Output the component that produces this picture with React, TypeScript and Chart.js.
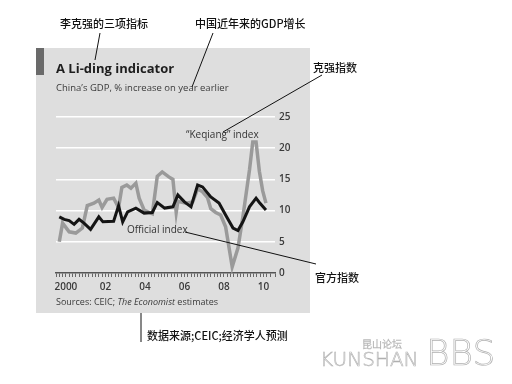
import React, { useEffect, useRef } from "react";
import { Chart, registerables } from "chart.js";

Chart.register(...registerables);

// Month index since January 2000 for each reading
const keqiangMonths = [2, 4, 8, 12, 16, 19, 23, 26, 28, 31, 35, 38, 40, 43, 45.5, 48.5, 50.5, 53.5, 58.5, 61.5, 64.5, 68.5, 71, 73, 74, 79, 83, 86, 89, 92, 94, 97, 100, 103, 107, 110.5, 113.5, 117.5, 119.5, 121.5, 123.5, 125.5, 127.5];
const keqiangValues = [5.0, 8.0, 6.6, 6.4, 7.2, 10.8, 11.2, 11.7, 10.5, 11.8, 12.0, 10.5, 13.7, 14.1, 13.6, 14.4, 12.0, 10.1, 9.5, 15.5, 16.2, 15.4, 15.0, 9.7, 11.5, 11.2, 11.4, 13.5, 13.0, 12.1, 10.3, 9.7, 9.3, 7.4, 1.0, 4.0, 9.0, 16.5, 21.0, 21.0, 16.3, 13.2, 11.2];

const officialMonths = [2, 5, 8, 11, 14, 17, 21, 26, 28.5, 35, 38, 40.5, 43.5, 48.5, 53.5, 58.5, 61.5, 66, 71, 74, 78, 82, 86, 89, 94, 99, 103, 107.5, 110.5, 113.5, 117.5, 121.5, 123.5, 127.5];
const officialValues = [9.0, 8.6, 8.4, 7.8, 8.6, 8.0, 7.0, 9.0, 8.2, 8.3, 10.8, 8.2, 9.8, 10.4, 9.6, 9.7, 11.3, 10.4, 10.6, 12.5, 11.4, 10.6, 14.1, 13.8, 12.2, 11.2, 9.3, 7.2, 6.8, 8.2, 10.6, 12.0, 11.3, 10.1];

const yearLabels = ["2000", "02", "04", "06", "08", "10"];
const yTicks = [0, 5, 10, 15, 20, 25];

const LAT = "'Open Sans', 'DejaVu Sans', sans-serif";
const CJK = "'Noto Sans CJK SC', sans-serif";

export default function App() {
  const ref = useRef<HTMLCanvasElement | null>(null);

  useEffect(() => {
    if (!ref.current) return;
    const chart = new Chart(ref.current, {
      type: "line",
      data: {
        datasets: [
          {
            label: "Official index",
            data: officialMonths.map((m, i) => ({ x: m, y: officialValues[i] })),
            borderColor: "#141414",
            borderWidth: 3,
            pointRadius: 0,
            tension: 0,
            order: 0,
          },
          {
            label: "Keqiang index",
            data: keqiangMonths.map((m, i) => ({ x: m, y: keqiangValues[i] })),
            borderColor: "#9a9a9a",
            borderWidth: 3.5,
            pointRadius: 0,
            tension: 0,
            order: 1,
          },
        ],
      },
      options: {
        animation: false,
        responsive: false,
        maintainAspectRatio: false,
        layout: { padding: { left: 56, top: 117, right: 213, bottom: 89 } },
        plugins: { legend: { display: false }, tooltip: { enabled: false } },
        scales: {
          x: {
            type: "linear",
            min: 0,
            max: 133,
            afterFit: (s: any) => {
              s.height = 22;
            },
            border: { display: true, color: "#555", width: 1.5 },
            grid: { drawOnChartArea: false, drawTicks: true, tickLength: 4, color: "#666", lineWidth: 1 },
            ticks: {
              stepSize: 2,
              autoSkip: false,
              maxRotation: 0,
              padding: 4,
              color: "#3a3a3a",
              font: { family: LAT, size: 10, weight: 600 },
              callback: (v: any) => {
                const n = Number(v);
                if ((n - 6) % 24 === 0) {
                  const idx = (n - 6) / 24;
                  return yearLabels[idx] ?? "";
                }
                return "";
              },
            },
          },
          y: {
            position: "right",
            min: 0,
            max: 25,
            afterFit: (s: any) => {
              s.width = 24;
            },
            afterBuildTicks: (s: any) => {
              s.ticks = yTicks.map((v) => ({ value: v }));
            },
            border: { display: false },
            grid: {
              drawTicks: false,
              color: (ctx: any) => (ctx.tick && ctx.tick.value === 0 ? "rgba(0,0,0,0)" : "#ffffff"),
              lineWidth: 1.5,
            },
            ticks: {
              padding: 4,
              color: "#3a3a3a",
              font: { family: LAT, size: 10, weight: 600 },
            },
          },
        },
      },
    });
    return () => chart.destroy();
  }, []);

  const abs = (o: React.CSSProperties): React.CSSProperties => ({ position: "absolute", whiteSpace: "nowrap", margin: 0, ...o });

  return (
    <div style={{ position: "fixed", left: 0, top: 0, width: 512, height: 384, background: "#fff", overflow: "hidden" }}>
      <div style={abs({ left: 36, top: 48, width: 274, height: 265, background: "#dedede" })} />
      <div style={abs({ left: 36, top: 48, width: 8, height: 27, background: "#6a6a6a" })} />
      <canvas ref={ref} width={512} height={384} style={{ position: "absolute", left: 0, top: 0, width: 512, height: 384 }} />

      <div style={abs({ left: 56, top: 61, fontFamily: LAT, fontWeight: 700, fontSize: 13, lineHeight: "14px", color: "#1e1e1e" })}>A Li-ding indicator</div>
      <div style={abs({ left: 56, top: 83, fontFamily: LAT, fontSize: 9.5, lineHeight: "10px", color: "#3a3a3a" })}>China’s GDP, % increase on year earlier</div>
      <div style={abs({ left: 186, top: 128, fontFamily: LAT, fontSize: 10, lineHeight: "12px", color: "#333" })}>“Keqiang” index</div>
      <div style={abs({ left: 127, top: 223, fontFamily: LAT, fontSize: 10, lineHeight: "12px", color: "#333" })}>Official index</div>
      <div style={abs({ left: 56, top: 296, fontFamily: LAT, fontSize: 9, lineHeight: "12px", color: "#3a3a3a" })}>
        Sources: CEIC; <i>The Economist</i> estimates
      </div>

      <div style={abs({ left: 60, top: 16, fontFamily: CJK, fontSize: 11, fontWeight: 500, lineHeight: "14px", color: "#111" })}>李克强的三项指标</div>
      <div style={abs({ left: 195, top: 16, fontFamily: CJK, fontSize: 11, fontWeight: 500, lineHeight: "14px", color: "#111" })}>中国近年来的GDP增长</div>
      <div style={abs({ left: 313, top: 60, fontFamily: CJK, fontSize: 11, fontWeight: 500, lineHeight: "14px", color: "#111" })}>克强指数</div>
      <div style={abs({ left: 315, top: 270, fontFamily: CJK, fontSize: 11, fontWeight: 500, lineHeight: "14px", color: "#111" })}>官方指数</div>
      <div style={abs({ left: 147, top: 328, fontFamily: CJK, fontSize: 11, fontWeight: 500, lineHeight: "14px", color: "#111" })}>数据来源;CEIC;经济学人预测</div>

      <svg width={512} height={384} style={{ position: "absolute", left: 0, top: 0 }}>
        <g stroke="#111" strokeWidth={1} fill="none">
          <line x1={100} y1={33} x2={95} y2={60} />
          <line x1={213} y1={33} x2={192} y2={87} />
          <line x1={322} y1={75} x2={223} y2={132} />
          <line x1={185} y1={232} x2={316} y2={264} />
          <line x1={141} y1={313} x2={141} y2={342} />
        </g>
      </svg>

      <div style={abs({ left: 362, top: 338, fontFamily: CJK, fontSize: 10, lineHeight: "11px", color: "#fff", WebkitTextStroke: "0.5px #b8b8b8", fontWeight: 300 })}>昆山论坛</div>
      <div style={abs({ left: 320, top: 348, fontFamily: "'DejaVu Sans', sans-serif", fontSize: 20, lineHeight: "22px", letterSpacing: 0, color: "#fff", WebkitTextStroke: "0.6px #b0b0b0", fontWeight: 200 })}>KUNSHAN</div>
      <div style={abs({ left: 426, top: 334, fontFamily: "'DejaVu Sans', sans-serif", fontSize: 36, lineHeight: "38px", color: "#fff", WebkitTextStroke: "0.7px #b0b0b0", fontWeight: 200 })}>BBS</div>
    </div>
  );
}
